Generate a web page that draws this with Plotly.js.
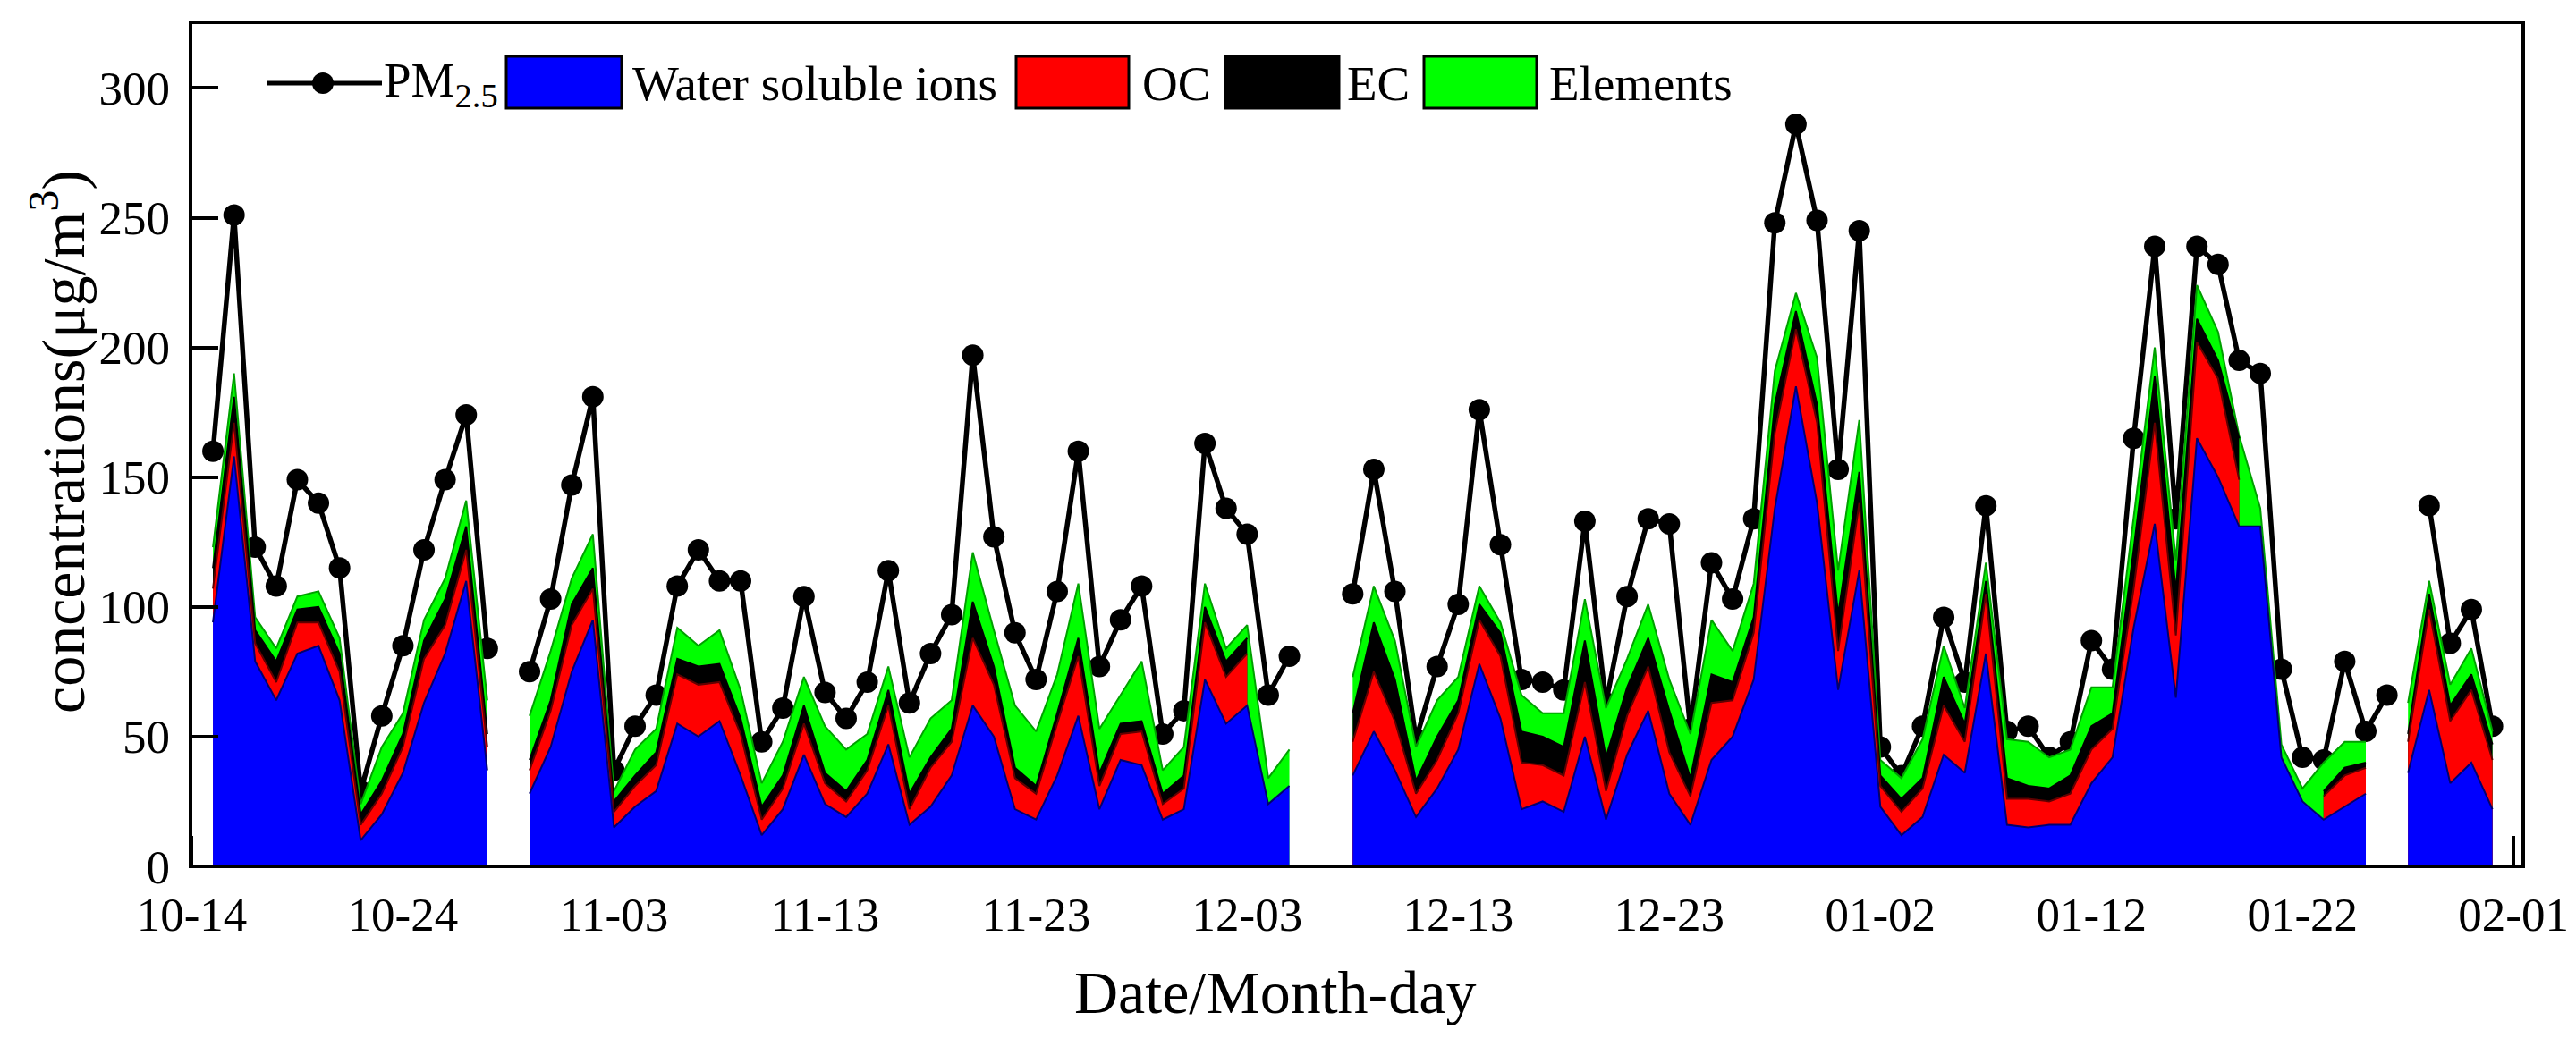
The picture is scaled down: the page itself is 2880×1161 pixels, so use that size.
<!DOCTYPE html>
<html>
<head>
<meta charset="utf-8">
<script src="https://cdn.plot.ly/plotly-3.0.1.min.js"></script>
<style>
  html, body { margin: 0; padding: 0; background: #fff; }
  #chart { width: 2880px; height: 1161px; }
</style>
</head>
<body>
<div id="chart"></div>
<script>
// daily samples, 15 Oct to 31 Jan (null = no sample that day)
const dates = [
  '2017-10-15','2017-10-16','2017-10-17','2017-10-18','2017-10-19','2017-10-20','2017-10-21','2017-10-22','2017-10-23','2017-10-24',
  '2017-10-25','2017-10-26','2017-10-27','2017-10-28','2017-10-29','2017-10-30','2017-10-31','2017-11-01','2017-11-02','2017-11-03',
  '2017-11-04','2017-11-05','2017-11-06','2017-11-07','2017-11-08','2017-11-09','2017-11-10','2017-11-11','2017-11-12','2017-11-13',
  '2017-11-14','2017-11-15','2017-11-16','2017-11-17','2017-11-18','2017-11-19','2017-11-20','2017-11-21','2017-11-22','2017-11-23',
  '2017-11-24','2017-11-25','2017-11-26','2017-11-27','2017-11-28','2017-11-29','2017-11-30','2017-12-01','2017-12-02','2017-12-03',
  '2017-12-04','2017-12-05','2017-12-06','2017-12-07','2017-12-08','2017-12-09','2017-12-10','2017-12-11','2017-12-12','2017-12-13',
  '2017-12-14','2017-12-15','2017-12-16','2017-12-17','2017-12-18','2017-12-19','2017-12-20','2017-12-21','2017-12-22','2017-12-23',
  '2017-12-24','2017-12-25','2017-12-26','2017-12-27','2017-12-28','2017-12-29','2017-12-30','2017-12-31','2018-01-01','2018-01-02',
  '2018-01-03','2018-01-04','2018-01-05','2018-01-06','2018-01-07','2018-01-08','2018-01-09','2018-01-10','2018-01-11','2018-01-12',
  '2018-01-13','2018-01-14','2018-01-15','2018-01-16','2018-01-17','2018-01-18','2018-01-19','2018-01-20','2018-01-21','2018-01-22',
  '2018-01-23','2018-01-24','2018-01-25','2018-01-26','2018-01-27','2018-01-28','2018-01-29','2018-01-30','2018-01-31'
];

const pm25 = [
  160, 251, 123, 108, 149, 140, 115, 29, 58, 85,
  122, 149, 174, 84, null, 75, 103, 147, 181, 37,
  54, 66, 108, 122, 110, 110, 48, 61, 104, 67,
  57, 71, 114, 63, 82, 97, 197, 127, 90, 72,
  106, 160, 77, 95, 108, 51, 60, 163, 138, 128,
  66, 81, null, null, 105, 153, 106, 49, 77, 101,
  176, 124, 72, 71, 68, 133, 63, 104, 134, 132,
  53, 117, 103, 134, 248, 286, 249, 153, 245, 46,
  35, 54, 96, 71, 139, 52, 54, 42, 48, 87,
  76, 165, 239, 134, 239, 232, 195, 190, 76, 42,
  41, 79, 52, 66, null, 139, 86, 99, 54
];

const ions = [
  94, 158, 79, 64, 82, 85, 64, 10, 20, 36,
  63, 82, 110, 37, null, 28, 46, 75, 95, 15,
  23, 29, 55, 50, 56, 35, 12, 22, 43, 24,
  19, 28, 47, 16, 23, 35, 62, 50, 22, 18,
  35, 58, 22, 41, 39, 18, 22, 72, 55, 62,
  24, 31, null, null, 35, 52, 37, 19, 30, 45,
  78, 57, 22, 25, 21, 50, 18, 43, 60, 28,
  16, 41, 50, 72, 138, 185, 140, 68, 114, 23,
  12, 19, 43, 36, 82, 16, 15, 16, 16, 32,
  42, 92, 132, 65, 165, 150, 131, 131, 42, 25,
  18, 23, 28, null, 36, 68, 32, 40, 22
];

const oc = [
  13, 13, 7, 7, 12, 9, 11, 6, 8, 10,
  17, 11, 12, 9, null, 9, 14, 18, 12, 6,
  8, 10, 19, 20, 15, 16, 6, 8, 12, 8,
  6, 9, 15, 6, 15, 13, 26, 20, 12, 10,
  20, 23, 9, 10, 13, 6, 8, 22, 18, 20,
  null, null, null, null, 13, 23, 19, 9, 11, 14,
  17, 24, 18, 14, 14, 21, 11, 15, 17, 16,
  11, 22, 14, 18, 29, 22, 31, 15, 26, 8,
  9, 11, 19, 12, 23, 10, 11, 9, 12, 13,
  11, 15, 39, 24, 37, 38, 18, null, null, null,
  9, 12, 10, null, 12, 31, 24, 28, 19
];

const ec = [
  8, 10, 5, 8, 5, 6, 7, 4, 5, 5,
  7, 10, 9, 5, null, 4, 4, 8, 8, 4,
  4, 5, 6, 7, 7, 6, 5, 5, 7, 4,
  4, 4, 6, 6, 4, 5, 14, 7, 4, 3,
  4, 7, 5, 4, 4, 4, 5, 6, 6, 6,
  null, null, null, null, 11, 19, 16, 5, 9, 5,
  6, 9, 12, 11, 11, 16, 13, 11, 11, 16,
  7, 11, 7, 6, 11, 7, 7, 14, 12, 4,
  5, 4, 11, 7, 5, 8, 5, 5, 7, 9,
  6, 15, 18, 17, 9, 7, 16, null, null, null,
  2, 3, 2, null, 3, 6, 6, 6, 6
];

const elements = [
  8, 9, 5, 5, 5, 6, 6, 4, 13, 8,
  8, 8, 10, 13, null, 17, 19, 10, 13, 4,
  10, 9, 12, 8, 13, 11, 9, 13, 11, 18,
  16, 10, 9, 14, 15, 11, 19, 14, 24, 21,
  15, 21, 17, 11, 23, 9, 11, 9, 5, 5,
  10, 14, null, null, 14, 14, 15, 13, 14, 9,
  7, 4, 14, 9, 13, 16, 19, 11, 13, 12,
  17, 21, 12, 13, 13, 7, 18, 17, 20, 6,
  8, 15, 12, 6, 7, 15, 17, 12, 10, 15,
  10, 12, 11, 12, 13, 11, 1, 7, 5, 5,
  11, 10, 8, null, 12, 5, 8, 10, 5
];

const tickStart = '2017-10-14';
const xRange = ['2017-10-13 22:30', '2018-02-01 11:00'];

// stacked tops, built from the component arrays
let ocTop = [], ecTop = [], elTop = [];
for (let i = 0; i < ions.length; i++) {
  const b = ions[i];
  if (b === null) { ocTop.push(null); ecTop.push(null); elTop.push(null); continue; }
  ocTop.push(oc[i] !== null ? b + oc[i] : null);
  ecTop.push(oc[i] !== null && ec[i] !== null ? b + oc[i] + ec[i] : null);
  elTop.push(elements[i] !== null ? b + (oc[i] || 0) + (ec[i] || 0) + elements[i] : null);
}

const font = 'Liberation Serif, Times New Roman, serif';

// plot box in pixels
const W = 2880, H = 1161;
const mL = 213, mR = 59, mT = 25, mB = 192;
function px(x) { return (x - mL) / (W - mL - mR); }
function py(y) { return (H - mB - y) / (H - mT - mB); }

// plotly joins filled areas across nulls, so each unbroken run gets its own trace
function areaTraces(y, fill, edge) {
  let out = [];
  let xs = [], ys = [];
  for (let i = 0; i <= y.length; i++) {
    if (i < y.length && y[i] !== null) { xs.push(dates[i]); ys.push(y[i]); continue; }
    if (xs.length) {
      out.push({
        x: xs, y: ys,
        mode: 'lines',
        fill: 'tozeroy',
        fillcolor: fill,
        line: { color: edge, width: 2 },
        hoverinfo: 'skip',
        showlegend: false,
      });
    }
    xs = []; ys = [];
  }
  return out;
}

var tracePM = {
  x: dates, y: pm25,
  mode: 'lines+markers',
  name: 'PM2.5',
  line: { color: 'black', width: 5.5 },
  marker: { size: 24, color: 'black' },
  connectgaps: false,
  showlegend: false,
};

// PM2.5 goes underneath the stacked areas, as in the original
let data = [tracePM].concat(
  areaTraces(elTop, '#00FF00', '#00A000'),
  areaTraces(ecTop, '#000000', '#000000'),
  areaTraces(ocTop, '#FF0000', '#600000'),
  areaTraces(ions, '#0000FF', '#000070')
);

// hand-made legend: long line with dot, then big boxes
let legendY = 93;
let shapes = [
  { type: 'rect', xref: 'paper', yref: 'paper', x0: 0, x1: 1, y0: 0, y1: 1,
    line: { color: 'black', width: 4 }, layer: 'above' },
  { type: 'line', xref: 'paper', yref: 'paper', x0: px(298), x1: px(427), y0: py(legendY), y1: py(legendY),
    line: { color: 'black', width: 5 } },
  { type: 'circle', xref: 'paper', yref: 'paper', xsizemode: 'pixel', ysizemode: 'pixel',
    xanchor: px(361), yanchor: py(legendY), x0: -12, x1: 12, y0: -12, y1: 12,
    fillcolor: 'black', line: { width: 0 } },
];
let boxes = [[566, 695, '#0000FF'], [1136, 1262, '#FF0000'], [1370, 1497, '#000000'], [1592, 1718, '#00FF00']];
boxes.forEach(b => shapes.push({
  type: 'rect', xref: 'paper', yref: 'paper', x0: px(b[0]), x1: px(b[1]), y0: py(121), y1: py(63),
  fillcolor: b[2], line: { color: 'black', width: 3 }
}));

let legendText = [[428, 'PM<sub>2.5</sub>'], [706, 'Water soluble ions'], [1276, 'OC'], [1505, 'EC'], [1731, 'Elements']];
let annotations = legendText.map(t => ({
  xref: 'paper', yref: 'paper', x: px(t[0]), y: py(legendY), xanchor: 'left', yanchor: 'middle',
  text: t[1], showarrow: false, borderpad: 0,
  font: { family: font, size: 55, color: 'black' }
}));

annotations.push({
  xref: 'paper', yref: 'paper', x: px(1425), y: py(1110), xanchor: 'center', yanchor: 'middle',
  text: 'Date/Month-day', showarrow: false,
  font: { family: font, size: 68, color: 'black' }
});
annotations.push({
  xref: 'paper', yref: 'paper', x: px(66), y: py(494), xanchor: 'center', yanchor: 'middle',
  text: 'concentrations(μg/m<sup>3</sup>)', textangle: -90, showarrow: false,
  font: { family: font, size: 68, color: 'black' }
});

var layout = {
  width: W, height: H,
  margin: { l: mL, r: mR, t: mT, b: mB, pad: 0 },
  paper_bgcolor: 'white',
  plot_bgcolor: 'white',
  showlegend: false,
  font: { family: font, color: 'black' },
  xaxis: {
    type: 'date',
    range: xRange,
    tick0: tickStart,
    dtick: 864000000,
    tickformat: '%m-%d',
    ticks: 'inside',
    ticklen: 34,
    tickwidth: 4,
    tickcolor: 'black',
    showgrid: false,
    zeroline: false,
    showline: false,
    layer: 'below traces',
    ticklabelstandoff: 18,
    tickfont: { family: font, size: 53, color: 'black' },
    automargin: false,
  },
  yaxis: {
    range: [0, 325.3],
    tick0: 0,
    dtick: 50,
    ticks: 'inside',
    ticklen: 31,
    tickwidth: 4,
    tickcolor: 'black',
    showgrid: false,
    zeroline: false,
    showline: false,
    ticklabelstandoff: 22,
    tickfont: { family: font, size: 53, color: 'black' },
    automargin: false,
  },
  shapes: shapes,
  annotations: annotations,
};

Plotly.newPlot('chart', data, layout, { displayModeBar: false, staticPlot: true });
</script>
</body>
</html>
